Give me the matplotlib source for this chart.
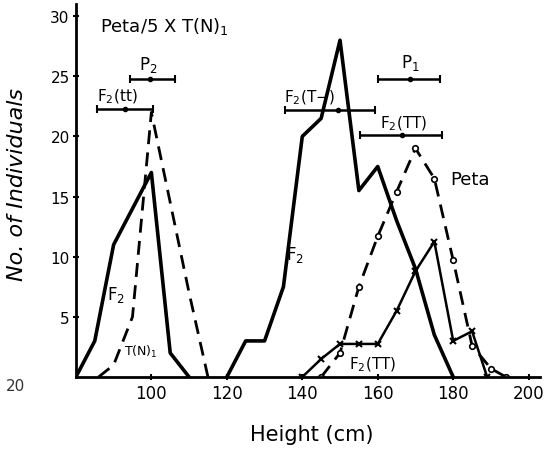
import matplotlib
matplotlib.use("Agg")
import matplotlib.pyplot as plt

# left F2 and T(N)1 distributions
f2_left_x = [80, 85, 90, 95, 100, 105, 110]
f2_left_y = [0, 3, 11, 14, 17, 2, 0]
tn1_x = [86, 90, 95, 100, 105, 110, 115]
tn1_y = [0, 1, 5, 22, 14.5, 7, 0]

# right F2 distribution
f2_right_x = [120, 125, 130, 135, 140, 145, 150, 155, 160, 165, 170, 175, 180]
f2_right_y = [0, 3, 3, 7.5, 20, 21.5, 28, 15.5, 17.5, 13, 9, 3.5, 0]

# Peta parent
peta_x = [145, 150, 155, 160, 165, 170, 175, 180, 185, 190, 194]
peta_y = [0, 2, 7.5, 11.7, 15.4, 19, 16.5, 9.7, 2.6, 0.7, 0]

# F2(TT) class
f2tt_x = [140, 145, 150, 155, 160, 165, 170, 175, 180, 185, 189]
f2tt_y = [0, 1.5, 2.75, 2.75, 2.75, 5.5, 8.8, 11.25, 3, 3.8, 0]

# range bars: (label, low, mean, high, level)
range_names = ["P$_2$", "F$_2$(tt)", "F$_2$(T$-$)", "P$_1$", "F$_2$(TT)"]
range_low = [94.3, 85.6, 135.4, 160.0, 155.3]
range_mean = [99.6, 93.0, 149.5, 168.6, 166.5]
range_high = [106.3, 100.4, 159.3, 176.5, 177.0]
range_level = [24.8, 22.3, 22.2, 24.8, 20.1]

fig = plt.figure(figsize=(5.46, 4.52), dpi=100)
ax = fig.add_axes([0.139, 0.1637, 0.85, 0.825])

ax.plot(f2_left_x, f2_left_y, color="black", lw=2.6)
ax.plot(tn1_x, tn1_y, color="black", lw=2.0, ls=(0, (5, 3)))
ax.plot(f2_right_x, f2_right_y, color="black", lw=2.6)
ax.plot(peta_x, peta_y, color="black", lw=2.0, ls=(0, (5, 3)),
        marker="o", ms=4, mfc="white", mec="black", mew=1.2)
ax.plot(f2tt_x, f2tt_y, color="black", lw=1.8,
        marker="x", ms=5, mew=1.5)

for lo, mu, hi, lev in zip(range_low, range_mean, range_high, range_level):
    ax.errorbar(mu, lev, xerr=[[mu - lo], [hi - mu]], fmt="o", ms=3,
                color="black", ecolor="black", elinewidth=1.8, capsize=3,
                capthick=1.5)

# range labels
ax.text(99.1, 26.0, range_names[0], fontsize=12, ha="center", va="center")
ax.text(85.6, 23.4, range_names[1], fontsize=11, ha="left", va="center")
ax.text(135.2, 23.3, range_names[2], fontsize=11, ha="left", va="center")
ax.text(168.6, 26.2, range_names[3], fontsize=12, ha="center", va="center")
ax.text(160.6, 21.1, range_names[4], fontsize=11, ha="left", va="center")

# curve labels
ax.text(86.4, 29.2, "Peta/5 X T(N)$_1$", fontsize=13, ha="left", va="center")
ax.text(179.2, 16.5, "Peta", fontsize=13, ha="left", va="center")
ax.text(135.6, 10.2, "F$_2$", fontsize=12, ha="left", va="center")
ax.text(88.2, 6.9, "F$_2$", fontsize=12, ha="left", va="center")
ax.text(92.8, 2.2, "T(N)$_1$", fontsize=9, ha="left", va="center")
ax.text(152.5, 1.1, "F$_2$(TT)", fontsize=11, ha="left", va="center")

ax.set_xlim(80, 203)
ax.set_ylim(0, 31)
ax.set_xticks([100, 120, 140, 160, 180, 200])
ax.set_yticks([5, 10, 15, 20, 25, 30])
ax.tick_params(axis="y", direction="inout", length=5, width=1.5, labelsize=11, pad=2)
ax.tick_params(axis="x", direction="inout", length=4, width=1.5, labelsize=12, pad=3)
for s in ["top", "right"]:
    ax.spines[s].set_visible(False)
ax.spines["left"].set_linewidth(2)
ax.spines["bottom"].set_linewidth(2)

ax.set_ylabel("No. of Individuals", fontsize=16, style="italic")
ax.yaxis.set_label_coords(-0.105, 0.52)
fig.text(0.571, 0.037, "Height (cm)", fontsize=15, ha="center", va="center")
fig.text(0.01, 0.145, "20", fontsize=11, ha="left", va="center", color="#333333")

fig.savefig("out.png", dpi=100, facecolor="white")
